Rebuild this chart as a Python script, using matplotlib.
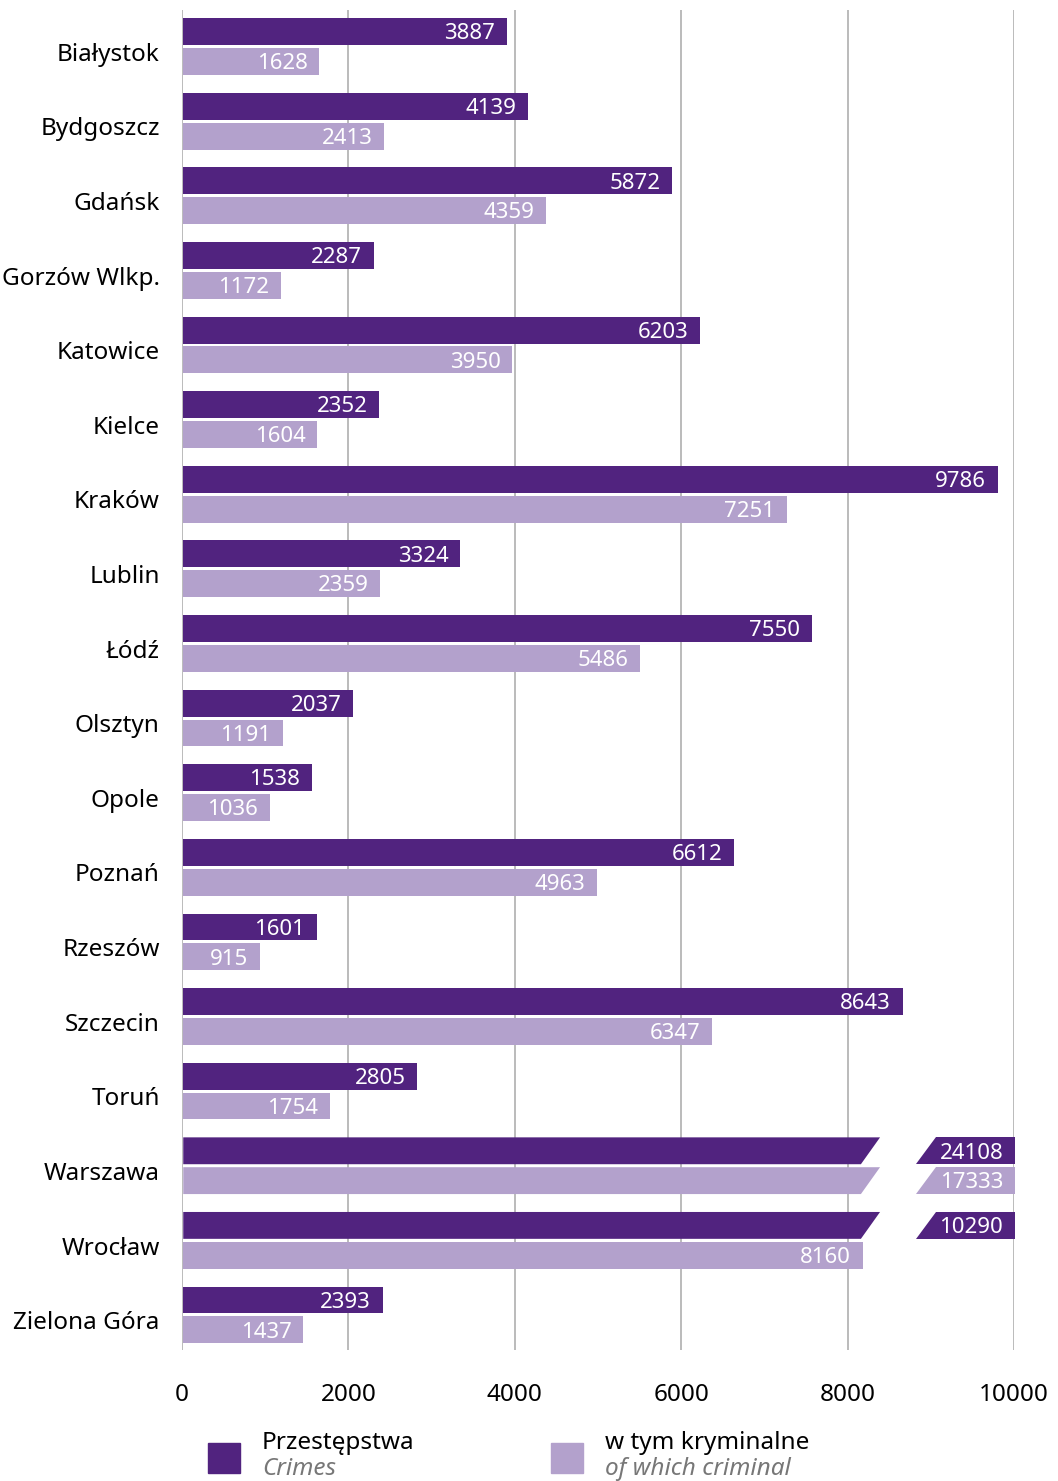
import matplotlib as mpl
from matplotlib import pyplot as plt
from matplotlib.patches import Polygon, Rectangle

# fonts and colours
mpl.rcParams['font.family'] = ['Noto Sans', 'DejaVu Sans']
fs = 17.5
fs_val = 16
c_dark = '#51237f'
c_light = '#b3a1cc'
c_grid = '#b5b5b5'

# data
cities = ['Białystok', 'Bydgoszcz', 'Gdańsk', 'Gorzów Wlkp.', 'Katowice', 'Kielce',
          'Kraków', 'Lublin', 'Łódź', 'Olsztyn', 'Opole', 'Poznań', 'Rzeszów',
          'Szczecin', 'Toruń', 'Warszawa', 'Wrocław', 'Zielona Góra']
crimes = [3887, 4139, 5872, 2287, 6203, 2352, 9786, 3324, 7550, 2037, 1538, 6612,
          1601, 8643, 2805, 24108, 10290, 2393]
criminal = [1628, 2413, 4359, 1172, 3950, 1604, 7251, 2359, 5486, 1191, 1036, 4963,
            915, 6347, 1754, 17333, 8160, 1437]
xticks = [0, 2000, 4000, 6000, 8000, 10000]

# axis limit and broken bar geometry (for values past the axis)
xmax = 10000
cut_top, cut_bot = 8390, 8160
piece_top, piece_bot = 9060, 8820
piece_end = 10010
bh = 0.36
off = 0.2
pad = 140
x0 = 15
shift = 20  # bars sit a touch right of the zero line

fig = plt.figure(figsize=(10.58, 14.81), dpi=100)
ax = fig.add_axes([182 / 1058, 1 - 1350 / 1481, (1014 - 182) / 1058, 1340 / 1481])

for t in xticks:
    ax.axvline(t, color=c_grid, lw=1.3, zorder=0)


def draw_bar(y, val, color):
    top, bot = y - bh / 2, y + bh / 2
    ty = y + 0.03
    if val <= xmax:
        ax.barh(y, val - x0 + shift, height=bh, color=color, zorder=2, left=x0)
        ax.text(val + shift - pad, ty, str(val), color='white', fontsize=fs_val,
                ha='right', va='center', zorder=3)
    else:
        # main part with slanted end
        ax.add_patch(Polygon([(x0, top), (cut_top, top), (cut_bot, bot), (x0, bot)],
                             closed=True, color=color, lw=0, zorder=2))
        # end piece
        ax.add_patch(Polygon([(piece_top, top), (piece_end, top), (piece_end, bot),
                              (piece_bot, bot)], closed=True, color=color, lw=0,
                             zorder=2, clip_on=False))
        ax.text(piece_end - pad, ty, str(val), color='white', fontsize=fs_val,
                ha='right', va='center', zorder=3)


for i, (a, b) in enumerate(zip(crimes, criminal)):
    draw_bar(i - off, a, c_dark)
    draw_bar(i + off, b, c_light)

ax.set_xlim(0, xmax)
ax.set_ylim(17.47, -0.49)
ax.set_yticks([i + 0.07 for i in range(len(cities))])
ax.set_yticklabels(cities, fontsize=fs)
ax.set_xticks(xticks)
ax.set_xticklabels([str(t) for t in xticks], fontsize=fs)
ax.tick_params(axis='y', length=0, pad=16)
ax.tick_params(axis='x', length=0, pad=24)
for s in ax.spines.values():
    s.set_visible(False)

# legend
H = 1481
W = 1058
legend = [(208, c_dark, 'Przestępstwa', 'Crimes'),
          (551, c_light, 'w tym kryminalne', 'of which criminal')]
for lx, col, pl, en in legend:
    fig.patches.append(Rectangle((lx / W, 1 - 1473 / H), 32 / W, 30 / H,
                                 color=col, transform=fig.transFigure))
    fig.text((lx + 54) / W, 1 - 1449 / H, pl, fontsize=fs, va='baseline')
    fig.text((lx + 54) / W, 1 - 1475 / H, en, fontsize=fs, va='baseline',
             style='italic', color='#777777')

plt.savefig('out.png', dpi=100)
plt.close()
